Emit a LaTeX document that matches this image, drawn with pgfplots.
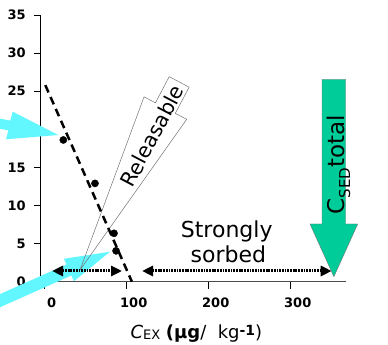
\documentclass[border=0pt]{standalone}
\usepackage{fontspec}
\setmainfont{DejaVu Sans}
\usepackage{pgfplots}
\pgfplotsset{compat=1.18}
\usetikzlibrary{arrows.meta}
\definecolor{cyanarr}{HTML}{62F6FF}
\definecolor{greenarr}{HTML}{00CC99}
\begin{document}
\begin{tikzpicture}
\path[use as bounding box] (0,0) rectangle (388pt,345pt);
\clip (0,0) rectangle (388pt,345pt);
\begin{axis}[
  at={(40.7pt,63.3pt)}, anchor=south west,
  scale only axis, width=305pt, height=266.7pt,
  xmin=-4.9, xmax=367, ymin=0, ymax=35,
  axis lines*=left,
  clip=false,
  xtick={0,100,200,300}, ytick={0,5,...,35},
  tick align=outside, major tick length=7pt,
  tick style={black, line width=0.8pt},
  x axis line style={black!70, line width=1.5pt},
  y axis line style={black, line width=0.9pt},
  /pgf/number format/assume math mode=true,
  tick label style={font=\fontsize{13}{15}\selectfont\bfseries},
  xticklabel={\bfseries\pgfmathprintnumber{\tick}},
  yticklabel={\bfseries\pgfmathprintnumber{\tick}},
  xticklabel style={xshift=7pt, yshift=-6pt},
  yticklabel style={xshift=-4.5pt},
  xlabel={{\itshape C}\raisebox{-1pt}{\fontsize{13}{12}\selectfont EX} {\bfseries(µg}/\ \ kg\raisebox{3.5pt}{\fontsize{14}{14}\selectfont\bfseries -1})},
  xlabel style={at={(axis description cs:0.5105,0)}, anchor=base, yshift=-57pt, font=\fontsize{18}{20}\selectfont},
]
\begin{scope}[shift={(axis cs:0,0)}]
\fill[cyanarr] (-134.55pt,170.3pt) -- (-36.35pt,151.3pt) -- (-38.7pt,142.4pt) -- (13.6pt,146.7pt) -- (-32pt,170pt) -- (-34.45pt,161.1pt) -- (-132.65pt,180.1pt) -- cycle;
\fill[cyanarr] (-82.96pt,-42.58pt) -- (26.64pt,6.22pt) -- (29.2pt,0.46pt) -- (65.3pt,30pt) -- (19.2pt,22.9pt) -- (21.76pt,17.18pt) -- (-87.84pt,-31.62pt) -- cycle;
\draw[black!55, line width=0.5pt] (35.3pt,11.7pt) -- (99.33pt,184.84pt) -- (110.7pt,178.85pt) -- (124.5pt,205.03pt) -- (144.4pt,194.53pt) -- (130.6pt,168.35pt) -- (141.97pt,162.36pt) -- cycle;
\node[rotate=62.2, font=\fontsize{20.5}{20.5}\selectfont] at (107.3pt,145.7pt) {Releasable};
\end{scope}

\addplot[black, line width=2.5pt, dash pattern=on 8pt off 5pt] coordinates {(0.7,25.8) (106.3,0)};
\addplot[only marks, mark=*, mark size=3.6pt, black] coordinates {(22.7,18.6) (61.3,12.9) (84.5,6.35) (87,4.05)};

\begin{scope}[shift={(axis cs:0,0)}]
\draw[{Triangle[length=11pt,width=10pt]}-{Triangle[length=11pt,width=10pt]}, line width=3pt, dash pattern=on 1.8pt off 0.9pt] (7.3pt,10.7pt) -- (77.3pt,10.7pt);
\draw[{Triangle[length=11pt,width=10pt]}-{Triangle[length=11pt,width=10pt]}, line width=3pt, dash pattern=on 1.8pt off 0.9pt] (97.3pt,10.7pt) -- (287pt,10.7pt);
\draw[fill=greenarr, draw=black!55, line width=0.4pt] (277.3pt,202.4pt) -- (301pt,202.4pt) -- (301pt,57.7pt) -- (313pt,57.7pt) -- (289.15pt,5pt) -- (265.3pt,57.7pt) -- (277.3pt,57.7pt) -- cycle;
\node[rotate=90, anchor=base, font=\fontsize{23}{23}\selectfont, inner sep=0pt] at (299.3pt,116.8pt) {C\raisebox{-6pt}{\fontsize{15}{15}\selectfont SED}total};
\node[anchor=base, font=\fontsize{22}{22}\selectfont] at (182pt,43.7pt) {Strongly};
\node[anchor=base, font=\fontsize{22}{22}\selectfont] at (183.6pt,18.7pt) {sorbed};
\end{scope}
\end{axis}
\end{tikzpicture}
\end{document}
